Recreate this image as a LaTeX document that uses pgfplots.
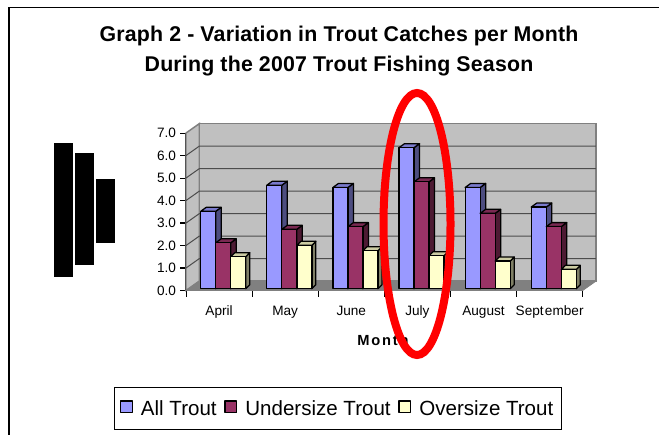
\documentclass[border=0pt]{standalone}
\usepackage{fontspec}
\setmainfont{Liberation Sans}
\newfontfamily\spacedfont[LetterSpace=0.9]{Liberation Sans}
\newfontfamily\widefont[LetterSpace=12]{Liberation Sans}
\usepackage{pgfplots}
\usepackage{pgfplotstable}
\pgfplotsset{compat=1.18}

\definecolor{allfront}{HTML}{9999FF}
\definecolor{allside}{HTML}{4D4D80}
\definecolor{alltop}{HTML}{7A7ACC}
\definecolor{underfront}{HTML}{993366}
\definecolor{underside}{HTML}{4D1A33}
\definecolor{undertop}{HTML}{7A2952}
\definecolor{overfront}{HTML}{FFFFCC}
\definecolor{overside}{HTML}{808066}
\definecolor{overtop}{HTML}{CCCCA3}
\definecolor{wallgray}{HTML}{C0C0C0}
\definecolor{floorgray}{HTML}{808080}

% Mean catch per month; x is the centre of the month's slot
\pgfplotstableread{
x   v
0.5 3.44
1.5 4.60
2.5 4.50
3.5 6.27
4.5 4.50
5.5 3.63
}\alltrout
\pgfplotstableread{
x   v
0.5 2.04
1.5 2.64
2.5 2.76
3.5 4.75
4.5 3.35
5.5 2.76
}\undersize
\pgfplotstableread{
x   v
0.5 1.42
1.5 1.93
2.5 1.69
3.5 1.47
4.5 1.23
5.5 0.86
}\oversize

% Length units of the axis: 66.12 px per month, 22.5 px per catch
\newcommand\barlift{1.35pt}
\tikzset{barstroke/.style={draw=black,line width=0.95pt,line join=round,yshift=\barlift}}

% Side and top faces of one bar.
% #1 table, #2 row, #3 bar shift (px), #4 depth (px), #5 side colour, #6 top colour
\newcommand\barfaces[6]{%
  \pgfplotstablegetelem{#2}{x}\of{#1}\let\barx\pgfplotsretval
  \pgfplotstablegetelem{#2}{v}\of{#1}\let\barv\pgfplotsretval
  \pgfmathsetmacro\xl{\barx+(#3-7.5)/66.12}
  \pgfmathsetmacro\xr{\barx+(#3+7.5)/66.12}
  \pgfmathsetmacro\xrb{\xr+#4/66.12}
  \pgfmathsetmacro\xlb{\xl+#4/66.12}
  \pgfmathsetmacro\depthy{4/22.5}
  \pgfmathsetmacro\vb{\barv+\depthy}
  \addplot[barstroke,fill=#5,forget plot] coordinates
    {(\xr,0) (\xrb,\depthy) (\xrb,\vb) (\xr,\barv)} -- cycle;
  \addplot[barstroke,fill=#6,forget plot] coordinates
    {(\xl,\barv) (\xr,\barv) (\xrb,\vb) (\xlb,\vb)} -- cycle;
}
\newcommand\seriesfaces[5]{%
  \pgfplotsinvokeforeach{0,...,5}{\barfaces{#1}{##1}{#2}{#3}{#4}{#5}}%
}
\pgfplotsset{
  swatch/.style={legend image code/.code={%
    \draw[black,line width=1pt,fill=#1] (0pt,-4.4pt) rectangle (8.8pt,4.4pt);}},
  frontbar/.style n args={2}{ybar,bar width=11.25pt,bar shift=#1,
    barstroke,fill=#2,swatch=#2},
}

\begin{document}
\begin{tikzpicture}
\path[use as bounding box] (0pt,0pt) rectangle (494.25pt,-326.25pt);

\begin{scope}[x=0.75pt,y=-0.75pt]
% Outer frame
\draw[gray!70,line width=0.75pt] (8,8) -- (8,435);
\draw[black,line width=1pt] (9,7.5) -- (659,7.5);
\draw[black,line width=1pt] (9,7.5) -- (9,435);

% Title
\node[align=center,font=\fontsize{16pt}{22.5pt}\selectfont\spacedfont\bfseries]
  at (339,51) {Graph 2 - Variation in Trout Catches per Month\\During the 2007 Trout Fishing Season};

% Blacked-out axis title
\fill[black] (54,142.7) rectangle (73,276.7);
\fill[black] (75,153) rectangle (94,265);
\fill[black] (96,179) rectangle (115,243);
\end{scope}

\begin{axis}[
  at={(139.5pt,-217.875pt)},anchor=south west,
  scale only axis,width=297.5pt,height=118.1pt,
  xmin=0,xmax=6,ymin=0,ymax=7,
  clip=false,
  axis x line*=bottom,axis y line*=left,
  axis line style={black,line width=0.8pt,-},
  xtick={0,...,6},
  xticklabels={April,May,June,July,August,Sept\kern1pt ember},
  x tick label as interval,
  ytick={0,...,7},
  yticklabel style={/pgf/number format/fixed,/pgf/number format/fixed zerofill,
    /pgf/number format/precision=1,/pgf/number format/assume math mode=true},
  tick style={black,line width=0.8pt},
  tick align=outside,
  major tick length=4.5pt,
  every x tick/.style={black,line width=0.6pt},
  tick label style={font=\fontsize{10.2pt}{11pt}\selectfont},
  xticklabel style={yshift=-3.4pt,text height=7.5pt,text depth=2pt},
  yticklabel style={xshift=0.5pt},
  xlabel={{\widefont\bfseries Month}},
  xlabel style={font=\fontsize{11pt}{12pt}\selectfont,at={(rel axis cs:0.4966,-0.318)},anchor=center},
  legend style={at={(rel axis cs:0.383,-0.751)},anchor=center,draw=black,line width=0.8pt,
    legend columns=3,font=\fontsize{15.4pt}{18pt}\selectfont,
    inner xsep=4pt,inner ysep=7.5pt,
    /tikz/every odd column/.append style={column sep=4pt},
    /tikz/every even column/.append style={column sep=3.75pt},
    nodes={inner xsep=2pt}},
  legend cell align=left,
]
% Walls, floor and gridlines of the chart box (13.3 px deep, 9.4 px up)
\addplot[draw=floorgray,line width=1.1pt,fill=wallgray,forget plot] coordinates
  {(0,0) (0,7) (0.2012,7.418) (0.2012,0.418)} -- cycle;
\addplot[draw=floorgray,line width=1.1pt,fill=wallgray,forget plot] coordinates
  {(0.2012,0.418) (0.2012,7.418) (6.2012,7.418) (6.2012,0.418)} -- cycle;
\addplot[draw=floorgray,line width=0.6pt,fill=floorgray,forget plot] coordinates
  {(0,0) (6,0) (6.2012,0.418) (0.2012,0.418)} -- cycle;
\pgfplotsinvokeforeach{1,...,6}{%
  \pgfmathsetmacro\gy{#1+0.418}
  \addplot[draw=black!70,line width=0.75pt,forget plot] coordinates
    {(0,#1) (0.2012,\gy) (6.2012,\gy)};
}

% Bars: back faces first, each series over the one behind it
\seriesfaces{\alltrout}{-10.86}{5.5}{allside}{alltop}
\addplot[frontbar={-8.145pt}{allfront}] table[x=x,y=v] {\alltrout};
\addlegendentry{All Trout}
\seriesfaces{\undersize}{4.14}{5.5}{underside}{undertop}
\addplot[frontbar={3.105pt}{underfront}] table[x=x,y=v] {\undersize};
\addlegendentry{Undersize Trout}
\seriesfaces{\oversize}{19.2}{4}{overside}{overtop}
\addplot[frontbar={14.4pt}{overfront}] table[x=x,y=v] {\oversize};
\addlegendentry{Oversize Trout}
\end{axis}

% Hand-drawn highlight round July
\begin{scope}[x=0.75pt,y=-0.75pt]
\draw[red,line width=6pt] (417,224) ellipse (33.5 and 131);
\end{scope}
\end{tikzpicture}
\end{document}
